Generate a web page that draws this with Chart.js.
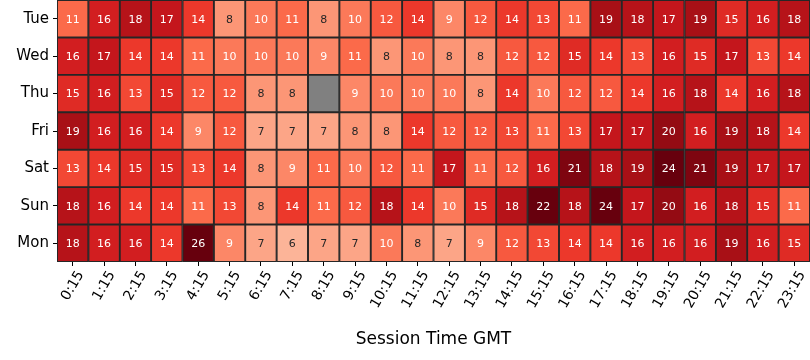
<!DOCTYPE html>
<html>
<head>
<meta charset="utf-8">
<script src="https://cdn.jsdelivr.net/npm/chart.js@4.4.0/dist/chart.umd.min.js"></script>
<style>
    html, body { margin: 0; padding: 0; background: #fff; }
    #wrap { width: 810px; height: 360px; }
</style>
</head>
<body>
<div id="wrap"><canvas id="heatmap" width="810" height="360"></canvas></div>
<script>
const dias = ['Tue', 'Wed', 'Thu', 'Fri', 'Sat', 'Sun', 'Mon'];
const horas = ['0:15', '1:15', '2:15', '3:15', '4:15', '5:15', '6:15', '7:15', '8:15', '9:15', '10:15', '11:15',
    '12:15', '13:15', '14:15', '15:15', '16:15', '17:15', '18:15', '19:15', '20:15', '21:15', '22:15', '23:15'];

const tue = [11, 16, 18, 17, 14, 8, 10, 11, 8, 10, 12, 14, 9, 12, 14, 13, 11, 19, 18, 17, 19, 15, 16, 18];
const wed = [16, 17, 14, 14, 11, 10, 10, 10, 9, 11, 8, 10, 8, 8, 12, 12, 15, 14, 13, 16, 15, 17, 13, 14];
const thu = [15, 16, 13, 15, 12, 12, 8, 8, null, 9, 10, 10, 10, 8, 14, 10, 12, 12, 14, 16, 18, 14, 16, 18];
const fri = [19, 16, 16, 14, 9, 12, 7, 7, 7, 8, 8, 14, 12, 12, 13, 11, 13, 17, 17, 20, 16, 19, 18, 14];
const sat = [13, 14, 15, 15, 13, 14, 8, 9, 11, 10, 12, 11, 17, 11, 12, 16, 21, 18, 19, 24, 21, 19, 17, 17];
const sun = [18, 16, 14, 14, 11, 13, 8, 14, 11, 12, 18, 14, 10, 15, 18, 22, 18, 24, 17, 20, 16, 18, 15, 11];
const mon = [18, 16, 16, 14, 26, 9, 7, 6, 7, 7, 10, 8, 7, 9, 12, 13, 14, 14, 16, 16, 16, 19, 16, 15];

const valores = [tue, wed, thu, fri, sat, sun, mon];

// escala Reds (matplotlib), tope de color en 22
const paradas = ['#fff5f0', '#fee0d2', '#fcbba1', '#fc9272', '#fb6a4a', '#ef3b2c', '#cb181d', '#a50f15', '#67000d'];
const vMax = 22;

function hexRgb(h) {
    return [parseInt(h.slice(1, 3), 16), parseInt(h.slice(3, 5), 16), parseInt(h.slice(5, 7), 16)];
}

function rgbCelda(v) {
    const t = Math.max(0, Math.min(1, v / vMax)) * (paradas.length - 1);
    const i = Math.min(Math.floor(t), paradas.length - 2);
    const f = t - i;
    const a = hexRgb(paradas[i]);
    const b = hexRgb(paradas[i + 1]);
    return a.map((c, k) => Math.round(c + (b[k] - c) * f));
}

function colorCelda(v) {
    if (v === null) return '#808080';
    const c = rgbCelda(v);
    return `rgb(${c[0]}, ${c[1]}, ${c[2]})`;
}

function colorTexto(v) {
    const lin = rgbCelda(v).map(c => {
        c = c / 255;
        return c <= 0.03928 ? c / 12.92 : Math.pow((c + 0.055) / 1.055, 2.4);
    });
    const lum = 0.2126 * lin[0] + 0.7152 * lin[1] + 0.0722 * lin[2];
    return lum > 0.408 ? '#262626' : '#ffffff';
}

const etiquetasCeldas = {
    id: 'etiquetasCeldas',
    afterDatasetsDraw(chart) {
        const ctx = chart.ctx;
        ctx.save();
        ctx.font = '11px "DejaVu Sans"';
        ctx.textAlign = 'center';
        ctx.textBaseline = 'middle';
        chart.data.datasets.forEach((ds, j) => {
            chart.getDatasetMeta(j).data.forEach((bar, i) => {
                const v = valores[i][j];
                if (v === null) return;
                const p = bar.getCenterPoint();
                ctx.fillStyle = colorTexto(v);
                ctx.fillText(String(v), p.x, p.y + 1);
            });
        });
        ctx.restore();
    }
};

Chart.defaults.font.family = '"DejaVu Sans", sans-serif';
Chart.defaults.color = '#000';

const datasets = horas.map((h, j) => ({
    label: h,
    data: dias.map(() => 1),
    backgroundColor: ctx => colorCelda(valores[ctx.dataIndex][j]),
    borderColor: '#262626',
    borderWidth: 1.3,
    borderSkipped: false,
    barPercentage: 1,
    categoryPercentage: 1
}));

const sinRelleno = s => {
    s.paddingTop = 0;
    s.paddingBottom = 0;
    s.paddingLeft = 0;
    s.paddingRight = 0;
};

new Chart(document.getElementById('heatmap'), {
    type: 'bar',
    data: { labels: dias, datasets: datasets },
    plugins: [etiquetasCeldas],
    options: {
        indexAxis: 'y',
        responsive: false,
        animation: false,
        devicePixelRatio: 1,
        layout: { padding: 0 },
        plugins: {
            legend: { display: false },
            tooltip: { enabled: false }
        },
        scales: {
            x: {
                type: 'linear',
                stacked: true,
                min: 0,
                max: 24,
                afterBuildTicks: axis => { axis.ticks = horas.map((h, j) => ({ value: j + 0.5 })); },
                afterFit: s => { s.height = 98; sinRelleno(s); },
                ticks: {
                    autoSkip: false,
                    minRotation: 60,
                    maxRotation: 60,
                    labelOffset: 8,
                    padding: 2,
                    font: { size: 14 },
                    color: '#000',
                    callback: v => horas[Math.floor(v)]
                },
                grid: { drawOnChartArea: false, drawTicks: true, tickLength: 4, color: '#000' },
                border: { display: false },
                title: {
                    display: true,
                    text: 'Session Time GMT',
                    font: { size: 17 },
                    color: '#000',
                    padding: { top: 0, bottom: 10 }
                }
            },
            y: {
                stacked: true,
                afterFit: s => { s.width = 57; sinRelleno(s); },
                ticks: { font: { size: 15 }, color: '#000', padding: 4 },
                grid: { offset: false, drawOnChartArea: false, drawTicks: true, tickLength: 4, color: '#000' },
                border: { display: false }
            }
        }
    }
});
</script>
</body>
</html>
